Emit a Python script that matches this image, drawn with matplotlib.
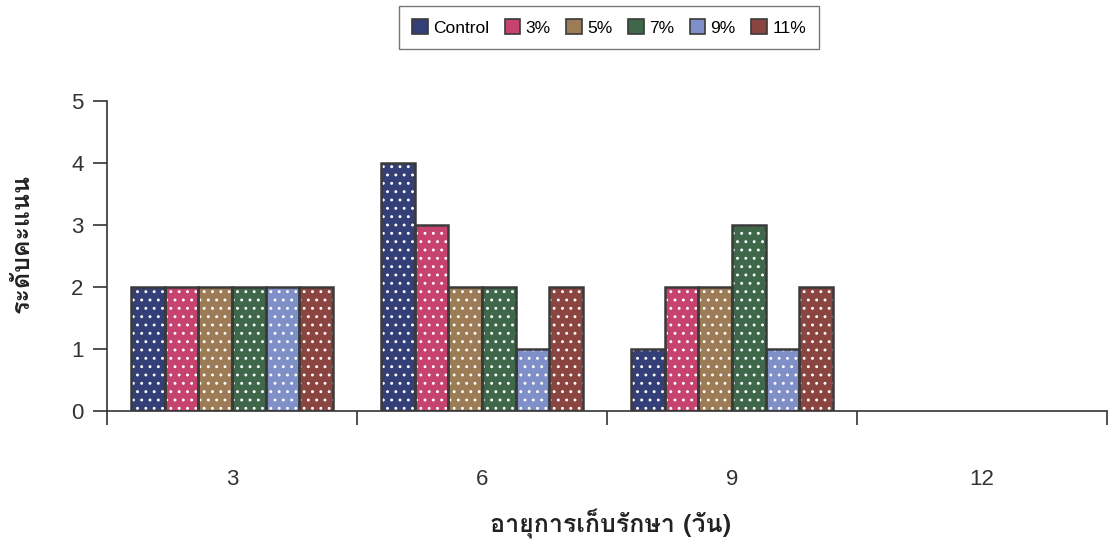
import matplotlib

matplotlib.use("Agg")
import matplotlib.pyplot as plt
import numpy as np
from matplotlib.patches import Patch
from matplotlib.ticker import FixedLocator

# storage age (days) and sensory scores per treatment
days = ["3", "6", "9", "12"]
series_names = ["Control", "3%", "5%", "7%", "9%", "11%"]
control = [2, 4, 1, 0]
pct3 = [2, 3, 2, 0]
pct5 = [2, 2, 2, 0]
pct7 = [2, 2, 3, 0]
pct9 = [2, 1, 1, 0]
pct11 = [2, 2, 2, 0]
y_ticks = [0, 1, 2, 3, 4, 5]

colors = ["#343f78", "#c6436f", "#9c7c57", "#3f684a", "#7f8fc8", "#8b4540"]
edge = "#3a3a3a"

plt.rcParams["font.family"] = ["Liberation Sans", "Loma", "DejaVu Sans"]
plt.rcParams["hatch.linewidth"] = 0.9

fig = plt.figure(figsize=(11.11, 5.52), dpi=100)
ax = fig.add_axes([107 / 1111, 1 - 411 / 552, 1000 / 1111, 310 / 552])

x = np.arange(len(days))
width = 0.1347
start = -0.404
all_series = [control, pct3, pct5, pct7, pct9, pct11]
for i, vals in enumerate(all_series):
    vals = np.asarray(vals, dtype=float)
    keep = vals > 0  # empty groups get no bar at all
    pos = (x + start + width * (i + 0.5))[keep]
    # filled bar with white dot pattern, then outline on top
    ax.bar(pos, vals[keep], width, color=colors[i], edgecolor="white",
           hatch="..", linewidth=0, zorder=2)
    ax.bar(pos, vals[keep], width, facecolor="none", edgecolor=edge,
           linewidth=1.8, zorder=3)

ax.set_xlim(-0.5, 3.5)
ax.set_ylim(0, 5)
ax.set_yticks(y_ticks)
ax.set_xticks(x)
ax.set_xticklabels(days)
ax.xaxis.set_minor_locator(FixedLocator(np.arange(-0.5, 3.6, 1.0)))
ax.tick_params(axis="x", which="major", length=0, pad=42, labelsize=16,
               colors="#333333")
ax.tick_params(axis="x", which="minor", length=10, width=1.2, color="#333333")
ax.tick_params(axis="y", length=10, width=1.2, pad=7, labelsize=16,
               colors="#333333")
for side in ("top", "right"):
    ax.spines[side].set_visible(False)
for side in ("left", "bottom"):
    ax.spines[side].set_linewidth(1.2)
    ax.spines[side].set_color("#333333")
ax.patch.set_alpha(0)

fig.text(22 / 1111, 1 - 243 / 552, "ระดับคะแนน", rotation=90, ha="center",
         va="center", fontsize=18, fontweight="bold",
         family=["Loma", "DejaVu Sans"], color="#222222")
fig.text(611 / 1111, 1 - 524 / 552, "อายุการเก็บรักษา (วัน)", ha="center",
         va="center", fontsize=18, fontweight="bold",
         family=["Loma", "DejaVu Sans"], color="#222222")

handles = [Patch(facecolor=c, edgecolor=edge, linewidth=1.2) for c in colors]
fig.legend(handles, series_names, loc="center", ncol=6,
           bbox_to_anchor=(609 / 1111, 1 - 27.5 / 552), fontsize=12.5,
           frameon=True, fancybox=False, edgecolor="#555555",
           handlelength=0.9, handleheight=0.9, handletextpad=0.3,
           columnspacing=0.9, borderpad=0.75)

fig.savefig("out.png", dpi=100, facecolor="white")
